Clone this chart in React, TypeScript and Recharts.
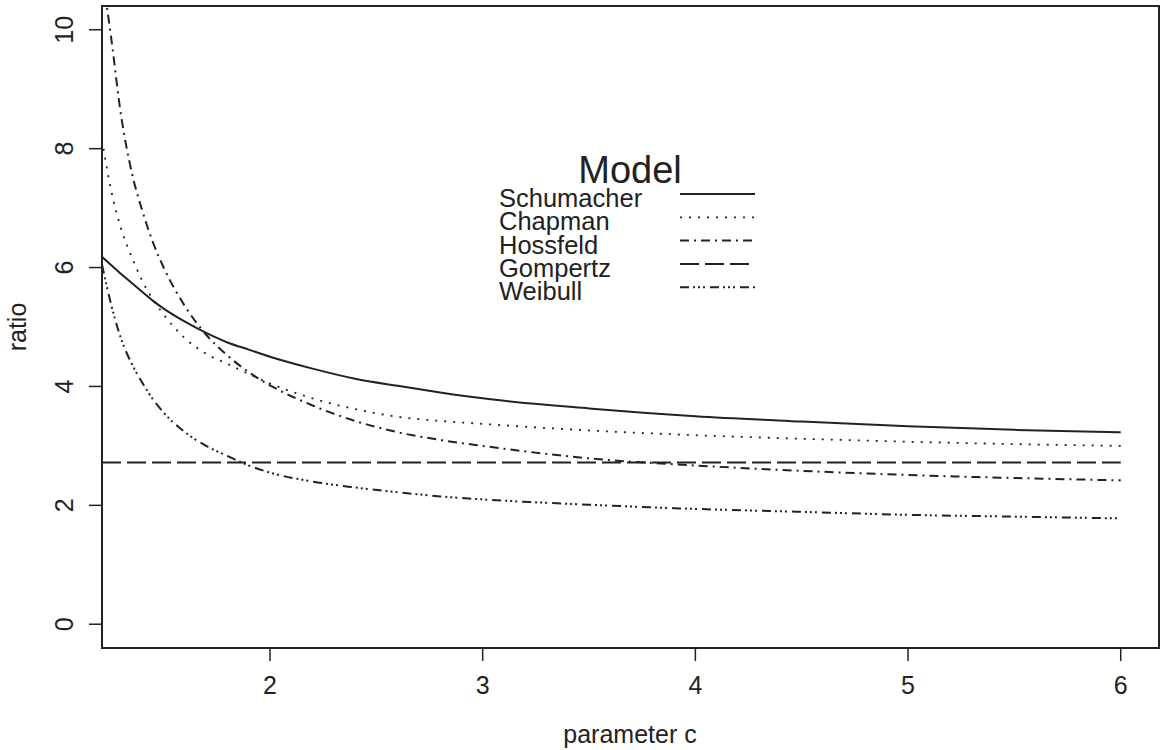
import React from "react";
import { LineChart, Line, XAxis, YAxis, ReferenceArea, Legend, Label } from "recharts";

const FONT = "'Liberation Sans', Arial, Helvetica, sans-serif";
const INK = "#222";

// parameter c sample positions
const cValues = [1.21, 1.25, 1.3, 1.35, 1.4, 1.45, 1.5, 1.6, 1.7, 1.8, 1.9, 2.0, 2.2, 2.4, 2.6, 2.8, 3.0, 3.5, 4.0, 4.5, 5.0, 5.5, 6.0];

const schumacher = [6.18, 6.05, 5.89, 5.74, 5.59, 5.44, 5.31, 5.09, 4.9, 4.74, 4.62, 4.5, 4.3, 4.13, 4.01, 3.9, 3.8, 3.63, 3.5, 3.41, 3.33, 3.27, 3.23];
const chapman = [8.15, 7.35, 6.65, 6.18, 5.77, 5.46, 5.21, 4.81, 4.55, 4.38, 4.21, 4.05, 3.8, 3.62, 3.49, 3.42, 3.37, 3.26, 3.18, 3.12, 3.07, 3.03, 3.0];
const hossfeld = [10.95, 9.95, 8.55, 7.6, 6.95, 6.42, 6.0, 5.35, 4.87, 4.52, 4.24, 4.02, 3.68, 3.42, 3.23, 3.1, 3.0, 2.79, 2.67, 2.58, 2.51, 2.46, 2.42];
const gompertz = [2.72, 2.72, 2.72, 2.72, 2.72, 2.72, 2.72, 2.72, 2.72, 2.72, 2.72, 2.72, 2.72, 2.72, 2.72, 2.72, 2.72, 2.72, 2.72, 2.72, 2.72, 2.72, 2.72];
const weibull = [6.05, 5.42, 4.8, 4.38, 4.06, 3.78, 3.56, 3.23, 3.0, 2.83, 2.67, 2.55, 2.4, 2.3, 2.22, 2.15, 2.1, 2.01, 1.94, 1.89, 1.84, 1.81, 1.78];

const xTicks = [2, 3, 4, 5, 6];
const yTicks = [0, 2, 4, 6, 8, 10];

const series = [
  { key: "schumacher", name: "Schumacher", dash: undefined as string | undefined, width: 2 },
  { key: "chapman", name: "Chapman", dash: "2 7", width: 1.8 },
  { key: "hossfeld", name: "Hossfeld", dash: "9 5 2 5", width: 2 },
  { key: "gompertz", name: "Gompertz", dash: "19 6", width: 2 },
  { key: "weibull", name: "Weibull", dash: "9 4 2 3 2 3 2 5", width: 2 },
];

const data = cValues.map((c, i) => ({
  c,
  schumacher: schumacher[i],
  chapman: chapman[i],
  hossfeld: hossfeld[i],
  gompertz: gompertz[i],
  weibull: weibull[i],
}));

const YTick = (props: any) => {
  const { x, y, payload } = props;
  return (
    <text
      transform={`translate(${x - 16},${y}) rotate(-90)`}
      textAnchor="middle"
      fontSize={25}
      fontFamily={FONT}
      fill={INK}
    >
      {payload.value}
    </text>
  );
};

const ModelLegend = () => (
  <svg width={300} height={170}>
    <text x={150} y={43} textAnchor="middle" fontSize={38} fontFamily={FONT} fill={INK}>
      Model
    </text>
    {series.map((s, i) => {
      const base = 67 + i * 23.3;
      return (
        <g key={s.key}>
          <text x={19} y={base} fontSize={25.5} fontFamily={FONT} fill={INK}>
            {s.name}
          </text>
          <line
            x1={200}
            x2={275}
            y1={base - 13}
            y2={base - 13}
            stroke={INK}
            strokeWidth={s.width}
            strokeDasharray={s.dash}
          />
        </g>
      );
    })}
  </svg>
);

export default function App() {
  return (
    <div style={{ position: "absolute", left: 0, top: 0, background: "#fff", fontFamily: FONT }}>
      <LineChart width={1160} height={750} data={data} margin={{ top: 6, right: 1, bottom: 0, left: 0 }}>
        <XAxis
          dataKey="c"
          type="number"
          domain={[1.21, 6.18]}
          allowDataOverflow
          ticks={xTicks}
          height={102}
          tickSize={13}
          tickMargin={15}
          axisLine={false}
          tickLine={{ stroke: INK, strokeWidth: 1.5 }}
          tick={{ fontSize: 25, fill: INK, fontFamily: FONT }}
        >
          <Label
            content={() => (
              <text x={630} y={743} textAnchor="middle" fontSize={25} fontFamily={FONT} fill={INK}>
                parameter c
              </text>
            )}
          />
        </XAxis>
        <YAxis
          type="number"
          domain={[-0.4, 10.4]}
          allowDataOverflow
          ticks={yTicks}
          width={102}
          tickSize={13}
          tickMargin={0}
          axisLine={false}
          tickLine={{ stroke: INK, strokeWidth: 1.5 }}
          tick={<YTick />}
        >
          <Label
            content={() => (
              <text
                transform="translate(26,327) rotate(-90)"
                textAnchor="middle"
                fontSize={25}
                fontFamily={FONT}
                fill={INK}
              >
                ratio
              </text>
            )}
          />
        </YAxis>
        <ReferenceArea x1={1.21} x2={6.18} y1={-0.4} y2={10.4} fill="none" stroke={INK} strokeWidth={2} ifOverflow="visible" />
        {series.map((s) => (
          <Line
            key={s.key}
            dataKey={s.key}
            name={s.name}
            type="monotone"
            stroke={INK}
            strokeWidth={s.width}
            strokeDasharray={s.dash}
            dot={false}
            activeDot={false}
            isAnimationActive={false}
          />
        ))}
        <Legend
          layout="horizontal"
          verticalAlign="middle"
          align="center"
          content={<ModelLegend />}
          wrapperStyle={{ position: "absolute", left: 480, top: 140, width: 300, height: 170 }}
        />
      </LineChart>
    </div>
  );
}
